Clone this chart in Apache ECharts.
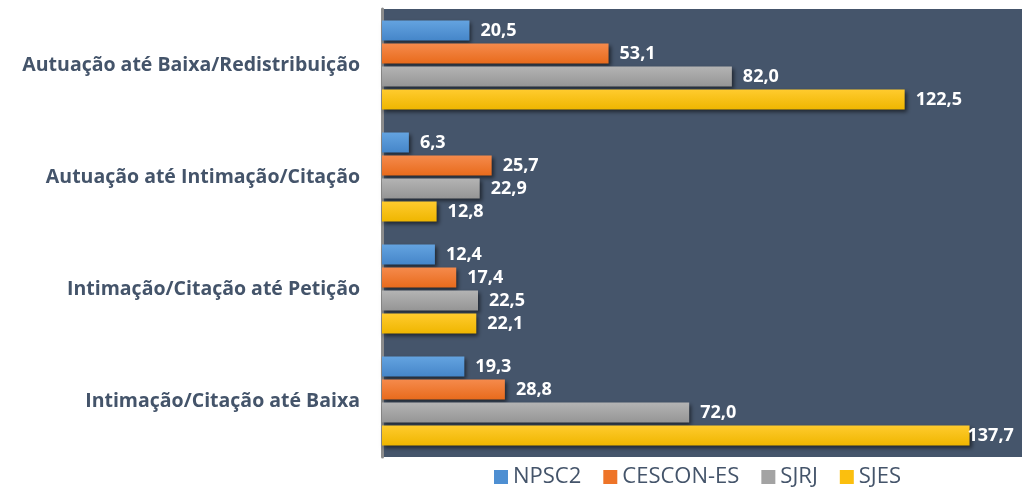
<!DOCTYPE html>
<html>
<head>
<meta charset="utf-8">
<script src="https://cdn.jsdelivr.net/npm/echarts@6/dist/echarts.min.js"></script>
<style>
html,body{margin:0;padding:0;background:#fff;}
#chart{width:1025px;height:489px;}
</style>
</head>
<body>
<div id="chart"></div>
<script>
const categories = [
  'Autuação até Baixa/Redistribuição',
  'Autuação até Intimação/Citação',
  'Intimação/Citação até Petição',
  'Intimação/Citação até Baixa'
];
const seriesNames = ['NPSC2', 'CESCON-ES', 'SJRJ', 'SJES'];
const npsc2 = [20.5, 6.3, 12.4, 19.3];
const cescon = [53.1, 25.7, 17.4, 28.8];
const sjrj = [82.0, 22.9, 22.5, 72.0];
const sjes = [122.5, 12.8, 22.1, 137.7];

const values = [npsc2, cescon, sjrj, sjes];
const gradients = [
  ['#64a3e0', '#4586c9'],
  ['#f58a4c', '#e86b1c'],
  ['#b4b4b4', '#959595'],
  ['#ffcb2e', '#efb600']
];
const legendColors = ['#4e8fd2', '#ee7428', '#a3a3a3', '#fbbf0e'];

function fmt(v){ return v.toFixed(1).replace('.', ','); }

const chart = echarts.init(document.getElementById('chart'), null, {renderer:'canvas'});
const series = seriesNames.map((name, i) => ({
  name: name,
  type: 'bar',
  barWidth: 20,
  barGap: '15%',
  itemStyle: {
    color: new echarts.graphic.LinearGradient(0, 0, 0, 1, [
      {offset: 0, color: gradients[i][0]},
      {offset: 1, color: gradients[i][1]}
    ]),
    shadowColor: 'rgba(0,0,0,0.55)',
    shadowBlur: 4,
    shadowOffsetX: 2,
    shadowOffsetY: 2
  },
  label: {
    show: true,
    position: 'right',
    distance: 11,
    color: '#ffffff',
    fontFamily: 'Open Sans',
    fontWeight: 'bold',
    fontSize: 18,
    formatter: p => fmt(p.value)
  },
  data: values[i].map(v => v > 130 ? {value: v, label: {distance: -2}} : v)
}));

chart.setOption({
  animation: false,
  backgroundColor: '#ffffff',
  color: legendColors,
  grid: {
    left: 382, right: 3, top: 9, bottom: 32,
    show: true, backgroundColor: '#45556b', borderWidth: 0,
    containLabel: false
  },
  legend: {
    data: seriesNames.map((n, i) => ({name: n, itemStyle: {color: legendColors[i], shadowBlur: 0, shadowOffsetX: 0, shadowOffsetY: 0}})),
    left: 489, top: 461,
    icon: 'rect',
    itemWidth: 14, itemHeight: 14,
    itemGap: 22,
    textStyle: {color: '#44546a', fontSize: 22, fontFamily: 'Open Sans'}
  },
  xAxis: {
    type: 'value', min: 0, max: 150,
    show: false
  },
  yAxis: {
    type: 'category',
    data: categories,
    inverse: true,
    axisLine: {show: true, lineStyle: {color: '#8c8c8c', width: 3}},
    axisTick: {show: false},
    axisLabel: {
      color: '#44546a', fontFamily: 'Open Sans', fontWeight: 'bold', fontSize: 19.5, margin: 22
    },
    splitLine: {show: false}
  },
  series: series
});
</script>
</body>
</html>
